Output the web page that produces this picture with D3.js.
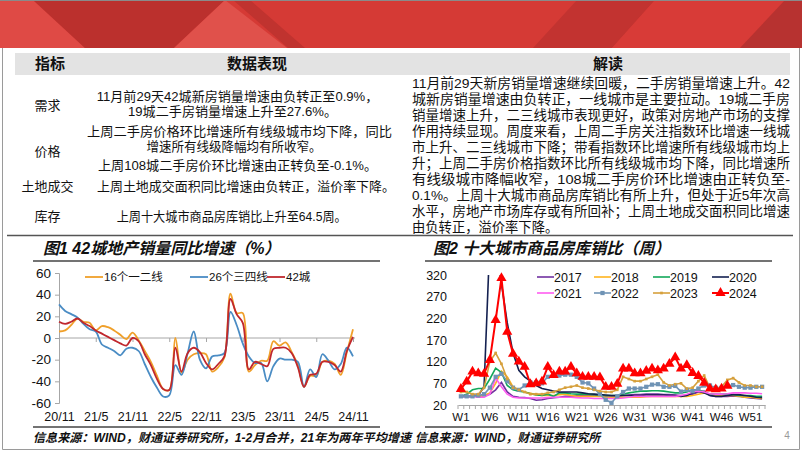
<!DOCTYPE html>
<html><head><meta charset="utf-8">
<script src="https://cdn.jsdelivr.net/npm/d3@7"></script>
<style>
body{margin:0;background:#fff}
svg{display:block}
text{font-family:"Liberation Sans",Arial,"Noto Sans CJK SC",sans-serif;fill:#111}
</style></head><body>
<svg id="s" width="802" height="451"></svg>
<script>
// ---------------- DATA ----------------
const tableHeaders = ["指标", "数据表现", "解读"];
const rowLabels = ["需求", "价格", "土地成交", "库存"];
const dataLines = [
  "11月前29天42城新房销量增速由负转正至0.9%，",
  "19城二手房销量增速上升至27.6%。",
  "上周二手房价格环比增速所有线级城市均下降，同比",
  "增速所有线级降幅均有所收窄。",
  "上周108城二手房价环比增速由正转负至-0.1%。",
  "上周土地成交面积同比增速由负转正，溢价率下降。",
  "上周十大城市商品房库销比上升至64.5周。"
];
const readLines = [
  "11月前29天新房销量增速继续回暖，二手房销量增速上升。42",
  "城新房销量增速由负转正，一线城市是主要拉动。19城二手房",
  "销量增速上升，二三线城市表现更好，政策对房地产市场的支撑",
  "作用持续显现。周度来看，上周二手房关注指数环比增速一线城",
  "市上升、二三线城市下降；带看指数环比增速所有线级城市均上",
  "升；上周二手房价格指数环比所有线级城市均下降，同比增速所",
  "有线级城市降幅收窄，108城二手房价环比增速由正转负至-",
  "0.1%。上周十大城市商品房库销比有所上升，但处于近5年次高",
  "水平，房地产市场库存或有所回补；上周土地成交面积同比增速",
  "由负转正，溢价率下降。"
];

const chart1Title = "图1 42城地产销量同比增速（%）";
const chart2Title = "图2 十大城市商品房库销比（周）";
const source1 = "信息来源：WIND，财通证券研究所，1-2月合并，21年为两年平均增速";
const source2 = "信息来源：WIND，财通证券研究所";

// Chart 1: monthly, 2020/11 .. 2024/11 (49 points)
const c1TickLabels = ["20/11","21/5","21/11","22/5","22/11","23/5","23/11","24/5","24/11"];
const c1YTicks = [-60,-40,-20,0,20,40,60];
const c1Names = ["16个一二线","26个三四线","42城"];
const c1Tier12 = [6,7,12,18,15,14,7,11,10,7,3,-1,5,-2,-12,-22,-35,-47,-48,0,-32,-20,-15,-14,-15,-31,-27,-18,41,23,23,-31,-25,-21,-21,-3,-7,-4,-13,-25,-45,-35,-35,-22,-21,-24,-34,-13,8];
const c1Tier34 = [31,25,22,19,13,8,6,-6,-9,-12,-16,-10,-9,-12,-24,-36,-46,-54,-53,-25,-34,-14,6,-20,-28,-17,-16,-14,24,12,-5,-17,-23,-23,-40,-26,-19,-20,-20,-22,-45,-29,-36,-15,-21,-29,-24,-9,-17];
const c1City42 = [15,13,15,18,14,11,7,4,1,-2,-5,-7,0,-3,-15,-25,-38,-47,-48,-9,-31,-14,-9,-13,-23,-29,-24,-17,36,22,14,-29,-22,-24,-26,-10,-9,-9,-14,-27,-45,-34,-33,-22,-22,-25,-31,-12,1];

// Chart 2: weekly W1..W53
const c2Weeks = d3.range(1, 54).map(d => "W" + d);
const c2TickLabels = ["W1","W6","W11","W16","W21","W26","W31","W36","W41","W46","W51"];
const c2YTicks = [20,70,120,170,220,270,320];
const c2Years = ["2017","2018","2019","2020","2021","2022","2023","2024"];
const y2017 = [40,40,40,40,42,45,55,72,50,40,38,37,35,31,32,35,37,38,40,40,41,42,42,42,41,40,40,40,42,43,44,44,45,45,45,44,44,43,42,42,45,50,52,42,40,40,40,41,40,38,36,35,34];
const y2018 = [55,50,45,40,42,48,70,98,85,62,55,50,47,44,42,42,42,44,45,42,40,40,40,40,40,38,38,38,38,38,38,38,39,40,40,40,40,40,40,40,42,45,48,45,42,42,42,42,40,38,38,36,35];
const y2019 = [40,45,55,58,58,80,105,95,65,55,52,50,46,43,42,45,40,48,48,46,45,45,45,44,43,42,42,42,45,48,50,52,52,53,53,52,50,48,48,50,55,55,50,45,45,45,45,44,42,42,42,40,40];
const y2020 = [40,40,40,42,62,400,400,300,210,140,100,85,75,65,58,55,52,50,50,50,50,48,46,45,44,43,42,42,42,42,42,42,43,43,43,43,42,42,40,42,48,52,48,42,40,40,42,44,44,42,40,38,37];
const y2021 = [40,40,40,38,38,45,82,62,45,38,36,36,36,36,36,37,38,38,38,38,37,36,36,35,35,35,35,35,36,38,40,40,40,40,40,40,40,40,42,45,50,52,50,46,45,45,46,48,48,48,47,47,46];
const y2022 = [40,40,40,42,45,60,85,92,75,60,55,65,72,72,70,85,88,88,90,90,85,72,70,58,45,32,25,40,50,58,58,58,62,67,68,62,62,64,51,55,52,58,65,65,60,60,65,66,62,60,60,62,62];
const y2023 = [50,50,45,45,60,120,140,115,80,60,55,50,45,45,45,48,50,55,60,62,65,60,58,55,52,50,50,55,85,80,75,75,80,85,90,72,65,68,70,58,60,75,88,60,55,62,78,82,72,65,65,62,62];
const y2024 = [57,74,97,93,92,124,216,313,189,138,120,108,68,70,74,108,89,97,97,108,93,85,85,85,84,62,62,69,104,104,93,93,99,104,100,104,115,130,104,112,94,87,71,58,56,58,64.5];

// ---------------- DRAW ----------------
const svg = d3.select("#s");
const LAT = '"Liberation Sans",Arial,sans-serif';

// banner
const banner = svg.append("g");
banner.append("rect").attr("x",0).attr("y",0).attr("width",802).attr("height",48).attr("fill","#d53a35");
const bannerShapes = [
  {p:[[0,0],[33,0],[85,48],[0,48]], c:"#df4a45"},
  {p:[[33,0],[225,0],[174,48],[85,48]], c:"#bb302d"},
  {p:[[225,0],[287,48],[174,48]], c:"#e0514b"},
  {p:[[233,0],[250,0],[305,48],[288,48]], c:"#c0332f"},
  {p:[[577,0],[655,0],[612,48],[533,48]], c:"#c23330"},
  {p:[[655,0],[785,0],[740,48],[612,48]], c:"#d83b37"},
  {p:[[785,0],[802,0],[802,48],[740,48]], c:"#b73230"}
];
banner.selectAll("polygon").data(bannerShapes).join("polygon")
  .attr("points", d => d.p.map(q => q.join(",")).join(" ")).attr("fill", d => d.c);
svg.append("line").attr("x1",0).attr("x2",802).attr("y1",0.5).attr("y2",0.5).attr("stroke","#8a8a8a");

// slide border
svg.append("path").attr("d","M2.5,48 V449.5 H799.5 V48").attr("fill","none").attr("stroke","#9a9a9a").attr("stroke-width",1);

// table header
svg.append("rect").attr("x",15).attr("y",53).attr("width",775).attr("height",22).attr("fill","#e3e3e3");
const hdrX = [50, 257, 608];
svg.selectAll("text.hdr").data(tableHeaders).join("text").attr("class","hdr")
  .attr("x",(d,i)=>hdrX[i]).attr("y",69).attr("text-anchor","middle")
  .attr("font-size",15).attr("font-weight","bold").text(d=>d);

// row labels
const rowY = [105, 151.7, 186.7, 216.7];
svg.selectAll("text.rl").data(rowLabels).join("text").attr("class","rl")
  .attr("x",47.5).attr("y",(d,i)=>rowY[i]+4.5).attr("text-anchor","middle")
  .attr("font-size",13).text(d=>d);

// data column
const dlX = [237.5, 232.5, 239.5, 234, 237.5, 246, 231.7];
const dlY = [96.7, 111, 131.7, 146.7, 165, 186.7, 216.7];
const dlW = [281.6, 209, 305, 175, 279, 298, 230];
svg.selectAll("text.dl").data(dataLines).join("text").attr("class","dl")
  .attr("x",(d,i)=>dlX[i]).attr("y",(d,i)=>dlY[i]+4.5).attr("text-anchor","middle")
  .attr("font-size",13).attr("textLength",(d,i)=>dlW[i]).attr("lengthAdjust","spacingAndGlyphs").text(d=>d);

// read column
svg.selectAll("text.rd").data(readLines).join("text").attr("class","rd")
  .attr("x",412).attr("y",(d,i)=>83+16*i+5).attr("font-size",13.3)
  .each(function(d,i){ if(i<readLines.length-1) d3.select(this).attr("textLength",378).attr("lengthAdjust","spacingAndGlyphs"); })
  .text(d=>d);

// separator line
svg.append("line").attr("x1",7).attr("x2",793).attr("y1",235.5).attr("y2",235.5).attr("stroke","#555").attr("stroke-width",1.5);

// chart titles + rules
svg.append("text").attr("x",43).attr("y",254).attr("font-size",16).attr("font-weight","bold").attr("font-style","italic").text(chart1Title);
svg.append("text").attr("x",433).attr("y",254).attr("font-size",16).attr("font-weight","bold").attr("font-style","italic").text(chart2Title);
[[33,380],[425,772]].forEach(([a,b])=>{
  svg.append("line").attr("x1",a).attr("x2",b).attr("y1",261).attr("y2",261).attr("stroke","#444").attr("stroke-width",1.3);
  svg.append("line").attr("x1",a).attr("x2",b).attr("y1",427).attr("y2",427).attr("stroke","#444").attr("stroke-width",1.3);
});
svg.append("text").attr("x",33).attr("y",442).attr("font-size",12).attr("font-weight","bold").attr("font-style","italic").attr("textLength",378).attr("lengthAdjust","spacingAndGlyphs").text(source1);
svg.append("text").attr("x",415).attr("y",442).attr("font-size",12).attr("font-weight","bold").attr("font-style","italic").attr("textLength",185).attr("lengthAdjust","spacingAndGlyphs").text(source2);
svg.append("text").attr("x",787).attr("y",439).attr("font-size",10).attr("text-anchor","middle").style("fill","#999").text("4");

// ---------- Chart 1 ----------
const x1 = d3.scaleLinear().domain([0,48]).range([59,353]);
const y1 = d3.scaleLinear().domain([-60,60]).range([403,273]);
const g1 = svg.append("g");
const ax1y = g1.append("g").attr("transform","translate(59,0)")
  .call(d3.axisLeft(y1).tickValues(c1YTicks).tickSize(4).tickPadding(4).tickFormat(d=>d));
ax1y.select(".domain").attr("stroke","#a6a6a6");
ax1y.selectAll(".tick line").attr("stroke","#a6a6a6");
ax1y.selectAll("text").attr("font-size",13.5).style("font-family",LAT).style("fill","#111");
// zero line with month ticks
const ax1z = g1.append("g").attr("transform",`translate(0,${y1(0)})`)
  .call(d3.axisBottom(x1).tickValues(d3.range(0,49,6)).tickSize(4).tickFormat(""));
ax1z.select(".domain").attr("stroke","#a6a6a6").attr("d",`M59,0H355`);
ax1z.selectAll(".tick line").attr("stroke","#a6a6a6");
// x labels at bottom
const ax1x = g1.append("g").attr("transform","translate(0,405)")
  .call(d3.axisBottom(x1).tickValues(d3.range(0,49,6)).tickSize(0).tickPadding(7).tickFormat((d,i)=>c1TickLabels[i]));
ax1x.select(".domain").remove();
ax1x.selectAll("text").attr("font-size",12.5).style("font-family",LAT).style("fill","#111");

const c1Series = [
  {name:c1Names[0], v:c1Tier12, c:"#f0a02a"},
  {name:c1Names[1], v:c1Tier34, c:"#4a8cc4"},
  {name:c1Names[2], v:c1City42, c:"#c0272d"}
];
const line1 = d3.line().x((d,i)=>x1(i)).y(d=>y1(d)).curve(d3.curveCatmullRom.alpha(0.5));
g1.selectAll("path.s1").data(c1Series).join("path").attr("class","s1")
  .attr("d",d=>line1(d.v)).attr("fill","none").attr("stroke",d=>d.c).attr("stroke-width",1.8);
// legend 1
const lg1X = [85,190,267];
const lg1 = g1.selectAll("g.lg1").data(c1Series).join("g").attr("class","lg1")
  .attr("transform",(d,i)=>`translate(${lg1X[i]},277)`);
lg1.append("line").attr("x1",0).attr("x2",18).attr("stroke",d=>d.c).attr("stroke-width",1.8);
lg1.append("text").attr("x",19).attr("y",4.3).attr("font-size",11.5).text(d=>d.name);

// ---------- Chart 2 ----------
const x2 = d3.scaleBand().domain(c2Weeks).range([458,765]);
const cx2 = w => x2(w) + x2.bandwidth()/2;
const y2 = d3.scaleLinear().domain([20,320]).range([405,275]);
const g2 = svg.append("g");
svg.append("defs").append("clipPath").attr("id","clip2").append("rect")
  .attr("x",455).attr("y",275).attr("width",315).attr("height",135);
const ax2y = g2.append("g").attr("transform","translate(458,0)")
  .call(d3.axisLeft(y2).tickValues(c2YTicks).tickSize(0).tickPadding(11));
ax2y.select(".domain").remove();
ax2y.selectAll("text").attr("font-size",12.5).style("font-family",LAT).style("fill","#111");
const ax2x = g2.append("g").attr("transform","translate(0,405)")
  .call(d3.axisBottom(x2).tickValues(c2TickLabels).tickSize(0).tickPadding(8));
ax2x.select(".domain").attr("stroke","#a6a6a6");
ax2x.selectAll("text").attr("font-size",11.5).style("font-family",LAT).style("fill","#111");
g2.selectAll("line.t2").data(c2Weeks.map(w=>x2(w)).concat([765])).join("line").attr("class","t2")
  .attr("x1",d=>d).attr("x2",d=>d).attr("y1",405).attr("y2",409).attr("stroke","#a6a6a6");

const c2Series = [
  {name:c2Years[0], v:y2017, c:"#7030a0", m:null},
  {name:c2Years[1], v:y2018, c:"#ffb41e", m:null},
  {name:c2Years[2], v:y2019, c:"#12a85a", m:null},
  {name:c2Years[3], v:y2020, c:"#142050", m:null},
  {name:c2Years[4], v:y2021, c:"#ff5cf0", m:null},
  {name:c2Years[5], v:y2022, c:"#6f93b5", m:"square"},
  {name:c2Years[6], v:y2023, c:"#d6a03c", m:"small"},
  {name:c2Years[7], v:y2024, c:"#ff0000", m:"triangle"}
];
const line2 = d3.line().x((d,i)=>cx2(c2Weeks[i])).y(d=>y2(d));
g2.append("g").attr("clip-path","url(#clip2)").selectAll("path.s2").data(c2Series).join("path").attr("class","s2")
  .attr("d",d=>line2(d.v)).attr("fill","none").attr("stroke",d=>d.c).attr("stroke-width",d=>d.m==="triangle"?2:1.6);
const symFor = m => m==="square" ? d3.symbol(d3.symbolSquare,18) : m==="small" ? d3.symbol(d3.symbolSquare,7) : d3.symbol(d3.symbolTriangle,45);
c2Series.filter(s=>s.m).forEach(s=>{
  g2.append("g").selectAll("path").data(s.v).join("path")
    .attr("transform",(d,i)=>`translate(${cx2(c2Weeks[i])},${y2(d)})`)
    .attr("d",symFor(s.m)).attr("fill",s.c);
});
// legend 2
const lg2X = [537,594,653,712];
const lg2 = g2.selectAll("g.lg2").data(c2Series).join("g").attr("class","lg2")
  .attr("transform",(d,i)=>`translate(${lg2X[i%4]},${i<4?277:293})`);
lg2.append("line").attr("x1",0).attr("x2",17).attr("stroke",d=>d.c).attr("stroke-width",d=>d.m==="triangle"?2:1.6);
lg2.filter(d=>d.m).append("path").attr("transform","translate(8.5,0)").attr("d",d=>symFor(d.m)()).attr("fill",d=>d.c);
lg2.append("text").attr("x",17).attr("y",4.5).attr("font-size",12.5).text(d=>d.name);
</script></body></html>
